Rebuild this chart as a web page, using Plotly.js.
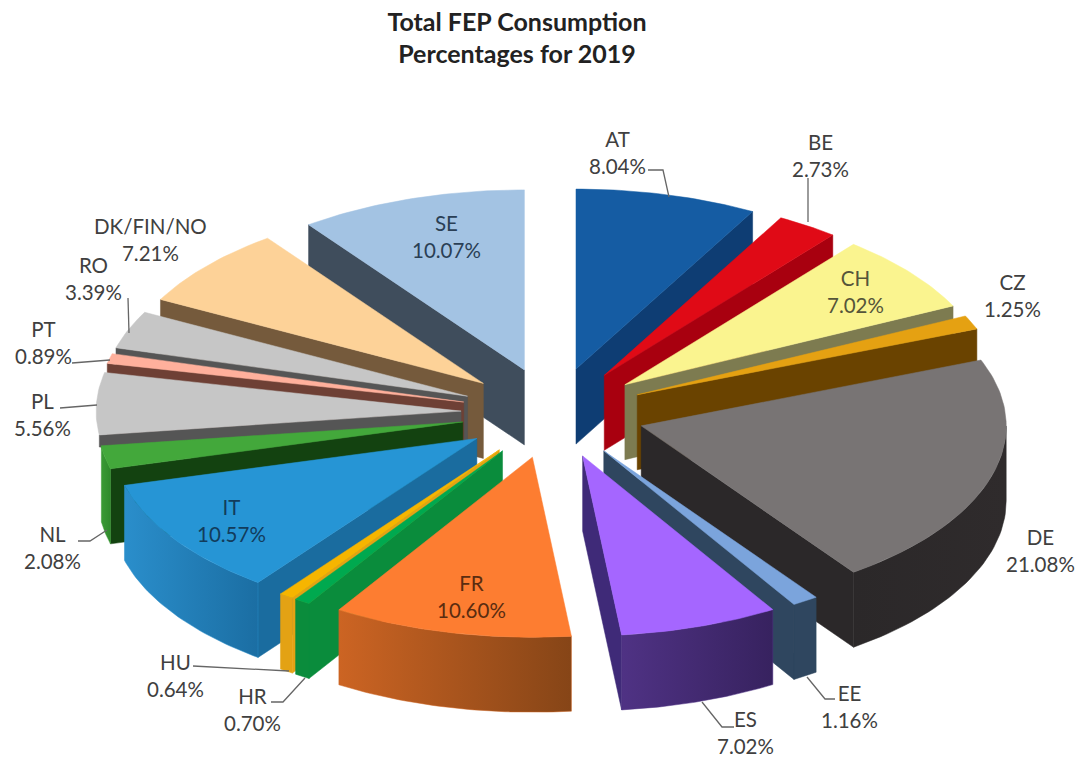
<!DOCTYPE html>
<html><head><meta charset="utf-8">
<script src="https://cdn.plot.ly/plotly-3.0.1.min.js"></script>
<style>html,body{margin:0;padding:0;background:#fff}</style></head>
<body><div id="chart" style="width:1081px;height:758px"></div>
<script>
const regions = ['AT','BE','CH','CZ','DE','EE','ES','FR','HR','HU','IT','NL','PL','PT','RO','DK/FIN/NO','SE'];
const shares = [8.04,2.73,7.02,1.25,21.08,1.16,7.02,10.60,0.70,0.64,10.57,2.08,5.56,0.89,3.39,7.21,10.07];
const topColors = ['#155ca3','#e00a16','#faf48f','#e5a112','#787474','#7ba4dc','#a566ff','#fd7d31','#00a94f','#f6b500','#2695d5','#43a83b','#c6c6c6','#ffb09c','#c6c6c6','#fdd298','#a3c3e3'];
const cutColors = ['#0e3d73','#a8000f','#7d7b50','#6a4300','#2b2829','#2f465f','#3f2a78','#8f4a18','#0a8c3c','#e3a214','#1a6c9f','#134210','#555555','#6e4035','#555555','#755a3c','#3f4d5c'];
const arcColorsA = ['#0e3d73','#a8000f','#7d7b50','#6a4300','#2b2829','#2f465f','#4f3284','#cc6423','#0a8c3c','#e3a214','#2a8ecb','#3a9a35','#9a9a9a','#9b6a5c','#9a9a9a','#a5886a','#5a6b7c'];
const arcColorsB = ['#0e3d73','#a8000f','#7d7b50','#6a4300','#2f2b2c','#2f465f','#37225f','#864517','#0a8c3c','#e3a214','#1b6ea3','#2f8a2c','#9a9a9a','#9b6a5c','#9a9a9a','#a5886a','#5a6b7c'];

const cx = 553, cy = 413, rx = 365, ry = 180, pull = 0.252, depth = 75;
const total = shares.reduce((a,b)=>a+b,0);
const rad = d => d*Math.PI/180;
let cum = 0;
const slices = shares.map((v,i)=>{
  const a = cum/total*360; cum += v; const b = cum/total*360; const m = (a+b)/2;
  return {i,a,b,m,ax:cx+pull*rx*Math.sin(rad(m)),ay:cy-pull*ry*Math.cos(rad(m))};
});
function rim(s,deg){return [s.ax+rx*Math.sin(rad(deg)), s.ay-ry*Math.cos(rad(deg))];}
function poly(pts,color,name,grad){
  const t={type:'scatter',mode:'lines',x:pts.map(p=>p[0]).concat(pts[0][0]),y:pts.map(p=>p[1]).concat(pts[0][1]),
    fill:'toself',fillcolor:color,line:{width:0.5,color:color},hoverinfo:'text',text:name,showlegend:false};
  if(grad){t.fillgradient={type:'horizontal',colorscale:[[0,grad[0]],[1,grad[1]]]};}
  return t;
}
const traces=[];
slices.slice().sort((p,q)=>Math.cos(rad(q.m))-Math.cos(rad(p.m))).forEach(s=>{
  const name=regions[s.i]+' '+shares[s.i].toFixed(2)+'%';
  const pa=rim(s,s.a), pb=rim(s,s.b), apex=[s.ax,s.ay];
  const down=p=>[p[0],p[1]+depth];
  // cut faces that look toward the viewer; a cut ending at the far-left edge of the pie is seen only at its top
  const outerDrop=(s.a>255&&s.a<270)?12:depth;
  if(pa[0]<apex[0]) traces.push(poly([apex,pa,[pa[0],pa[1]+outerDrop],down(apex)],cutColors[s.i],name));
  if(pb[0]>apex[0]) traces.push(poly([pb,apex,down(apex),down(pb)],cutColors[s.i],name));
  // outer rim: only the part of the front that the reference's camera sees
  const from=Math.max(s.a,90), to=Math.min(s.b,262);
  if(to>from){
    const up=[];for(let k=0;k<=40;k++){up.push(rim(s,from+(to-from)*k/40));}
    traces.push(poly(up.concat(up.slice().reverse().map(down)),arcColorsA[s.i],name,[arcColorsA[s.i],arcColorsB[s.i]]));
  }
  const top=[apex];const n=Math.max(4,Math.ceil(s.b-s.a));
  for(let k=0;k<=n;k++){top.push(rim(s,s.a+(s.b-s.a)*k/n));}
  traces.push(poly(top,topColors[s.i],name));
});

const labelX=[617,820,855,1012,1040,849,745,471,252,175,231,52,42,43,93,150,446];
const labelY=[152,155,291,295,550,706,732,596,709,675,520,547,414,342,278,239,236];
const labelInk=['#404040','#404040','#55553a','#404040','#404040','#404040','#404040','#5a2c10','#404040','#404040','#123c5c','#404040','#404040','#404040','#404040','#404040','#2a3f55'];
const annotations=regions.map((r,i)=>({x:labelX[i],y:labelY[i],xref:'x',yref:'y',showarrow:false,align:'center',
  text:r+'<br>'+shares[i].toFixed(2)+'%',font:{family:'Lato, "Open Sans", sans-serif',size:20.5,color:labelInk[i]}}));
const leaderPaths=['M648 170L663 170L669 197','M808 178L808 222','M807 677L825 699L835 699','M702 702L722 727L734 727',
  'M305 678L283 702L271 702','M193 666L289 671','M78 541L90 541L107 530','M60 408L97 405','M72 363L110 360','M128 298L129 333'];
const shapes=leaderPaths.map(p=>({type:'path',path:p,xref:'x',yref:'y',layer:'above',line:{color:'#666666',width:1.3}}));

Plotly.newPlot('chart',traces,{
  width:1081,height:758,margin:{l:0,r:0,t:0,b:0},paper_bgcolor:'#fff',plot_bgcolor:'#fff',showlegend:false,
  title:{text:'<b>Total FEP Consumption<br>Percentages for 2019</b>',x:517/1081,xanchor:'center',y:0.9595,yanchor:'top',
    font:{family:'Lato, "Open Sans", sans-serif',size:25,color:'#222'}},
  xaxis:{range:[0,1081],visible:false,fixedrange:true},
  yaxis:{range:[758,0],visible:false,fixedrange:true},
  annotations,shapes
},{displayModeBar:false});
</script></body></html>
